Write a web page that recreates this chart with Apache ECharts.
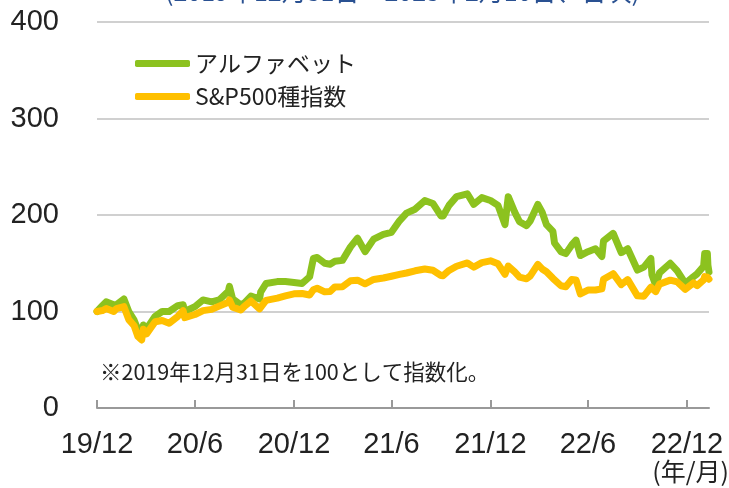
<!DOCTYPE html>
<html>
<head>
<meta charset="utf-8">
<script src="https://cdn.jsdelivr.net/npm/echarts@6/dist/echarts.min.js"></script>
<style>
  html, body { margin: 0; padding: 0; background: #fff; }
  #chart { width: 729px; height: 488px; }
</style>
</head>
<body>
<div id="chart"></div>
<script>
// 2019/12/31 = 100
var dates = [
  '2019-12-31','2020-01-10','2020-01-17','2020-01-31','2020-02-05','2020-02-19','2020-02-28','2020-03-09',
  '2020-03-16','2020-03-23','2020-03-26','2020-04-01','2020-04-17','2020-04-30','2020-05-13','2020-05-29',
  '2020-06-08','2020-06-11','2020-06-30','2020-07-15','2020-07-31','2020-08-14','2020-08-31','2020-09-02',
  '2020-09-08','2020-09-23','2020-09-30','2020-10-12','2020-10-28','2020-10-30','2020-11-09','2020-11-30',
  '2020-12-15','2020-12-31','2021-01-15','2021-01-29','2021-02-05','2021-02-12','2021-02-26','2021-03-08',
  '2021-03-17','2021-03-31','2021-04-15','2021-04-28','2021-05-12','2021-05-28','2021-06-15','2021-06-30',
  '2021-07-15','2021-07-28','2021-08-13','2021-08-31','2021-09-15','2021-09-30','2021-10-04','2021-10-15',
  '2021-10-29','2021-11-18','2021-11-30','2021-12-15','2021-12-31','2022-01-03','2022-01-14','2022-01-27',
  '2022-02-02','2022-02-14','2022-02-23','2022-03-08','2022-03-15','2022-03-29','2022-04-06','2022-04-14',
  '2022-04-26','2022-04-29','2022-05-11','2022-05-20','2022-05-31','2022-06-08','2022-06-16','2022-06-30',
  '2022-07-14','2022-07-26','2022-07-29','2022-08-16','2022-08-31','2022-09-12','2022-09-30','2022-10-12',
  '2022-10-25','2022-10-27','2022-11-03','2022-11-10','2022-11-30','2022-12-13','2022-12-28','2022-12-30',
  '2023-01-12','2023-01-19','2023-01-31','2023-02-02','2023-02-07','2023-02-08','2023-02-10'
];
var alphabet = [
  100,106,110,107,107,113,100,91,
  81,79,86,82,95,100,100,106,
  107,100,105,112,110,112,121,126,
  113,107,109,116,113,120,129,131,
  131,130,129,136,155,156,150,149,
  152,153,167,176,162,175,180,182,
  194,202,206,215,212,199,199,210,
  219,222,211,218,215,216,210,190,
  219,203,193,189,194,211,203,190,
  183,171,162,160,169,174,158,162,
  165,157,173,181,161,165,143,146,
  155,138,127,140,150,142,129,131,
  136,139,147,160,160,148,141
];
var sp500 = [
  100,101,103,100,103,105,91.6,85.2,
  74.1,70.5,81.7,76.8,89.4,90.6,87.8,94.9,
  100.8,93.7,96.9,100.9,102.2,105.6,109.6,112.1,
  104.5,101.5,105.5,110.9,102.7,102.7,111.5,113.9,
  116.2,118.3,118.7,117.1,122.6,124.1,120.4,120.7,
  125.5,125.6,131.9,132.5,128.7,133.2,134.7,136.5,
  138.4,139.9,142.2,144.1,142.7,137.3,137.1,142.5,
  146.9,150.3,146,150.6,152.5,153,149.4,138.6,
  147.1,141.1,135.6,133.9,136.9,148.8,144.1,141.2,
  134.4,133,126.7,125.7,133.1,132.7,118.3,122.2,
  122.3,123.5,133.4,139.2,127.9,133,116.2,115.9,
  125.1,123.5,120.6,128.4,132.5,130.6,123,124.7,
  129.6,126.8,132.8,136.2,135.5,134.5,133.5
];
var xTickDates = ['2019-12-31','2020-06-30','2020-12-31','2021-06-30','2021-12-31','2022-06-30','2022-12-31'];
var xTickLabels = ['19/12','20/6','20/12','21/6','21/12','22/6','22/12'];
var yTicks = [0, 100, 200, 300, 400];

var seriesNames = ['アルファベット', 'S&P500種指数'];
var colors = ['#8cc21f', '#ffc000'];

var chart = echarts.init(document.getElementById('chart'), null, { renderer: 'canvas' });

function toTs(d) {
  var p = d.split('-');
  return Date.UTC(+p[0], +p[1] - 1, +p[2]);
}
var tickTs = xTickDates.map(toTs);

function pairs(vals) {
  return dates.map(function (d, i) { return [toTs(d), vals[i]]; });
}

var option = {
  animation: false,
  backgroundColor: '#fff',
  textStyle: { fontFamily: '"Liberation Sans", Arial, sans-serif' },
  grid: { left: 97, right: 20, top: 22, bottom: 80 },
  legend: {
    orient: 'vertical',
    left: 130,
    top: 47,
    itemGap: 10,
    itemWidth: 55,
    itemHeight: 7,
    icon: 'roundRect',
    textStyle: { fontSize: 23, color: '#222', fontFamily: '"Noto Sans CJK JP", sans-serif' },
    data: seriesNames
  },
  xAxis: {
    type: 'value',
    min: toTs('2019-12-31'),
    max: toTs('2023-02-10'),
    axisLine: { show: true, lineStyle: { color: '#999', width: 2 } },
    axisTick: { show: true, inside: true, length: 8, customValues: tickTs, lineStyle: { color: '#999', width: 2 } },
    splitLine: { show: false },
    axisLabel: {
      customValues: tickTs,
      margin: 22,
      fontSize: 29,
      color: '#222',
      hideOverlap: false,
      formatter: function (v) {
        var best = 0;
        for (var i = 1; i < tickTs.length; i++) {
          if (Math.abs(tickTs[i] - v) < Math.abs(tickTs[best] - v)) best = i;
        }
        return xTickLabels[best];
      }
    }
  },
  yAxis: {
    type: 'value',
    min: yTicks[0],
    max: yTicks[yTicks.length - 1],
    interval: 100,
    axisLine: { show: false },
    axisTick: { show: false },
    splitLine: {
      lineStyle: { color: '#d0d0d0', width: 2 },
      showMinLine: false
    },
    axisLabel: { fontSize: 29, color: '#222', margin: 38 }
  },
  graphic: [
    {
      type: 'text', left: 165, top: -21,
      style: { text: '(2019年12月31日～2023年2月10日、日次)', fill: '#2a5192', fontSize: 25, fontFamily: '"Noto Sans CJK JP", sans-serif' }
    },
    {
      type: 'text', left: 100, top: 361,
      style: { text: '※2019年12月31日を100として指数化。', fill: '#222', fontSize: 21.5, fontFamily: '"Noto Sans CJK JP", sans-serif' }
    },
    {
      type: 'text', right: 0, top: 459,
      style: { text: '(年/月)', fill: '#222', fontSize: 25, fontFamily: '"Noto Sans CJK JP", sans-serif' }
    }
  ],
  series: seriesNames.map(function (name, k) {
    return {
      name: name,
      type: 'line',
      showSymbol: false,
      symbol: 'none',
      color: colors[k],
      lineStyle: { width: 7, color: colors[k], cap: 'round', join: 'round' },
      data: pairs(k === 0 ? alphabet : sp500)
    };
  })
};

chart.setOption(option);
</script>
</body>
</html>
